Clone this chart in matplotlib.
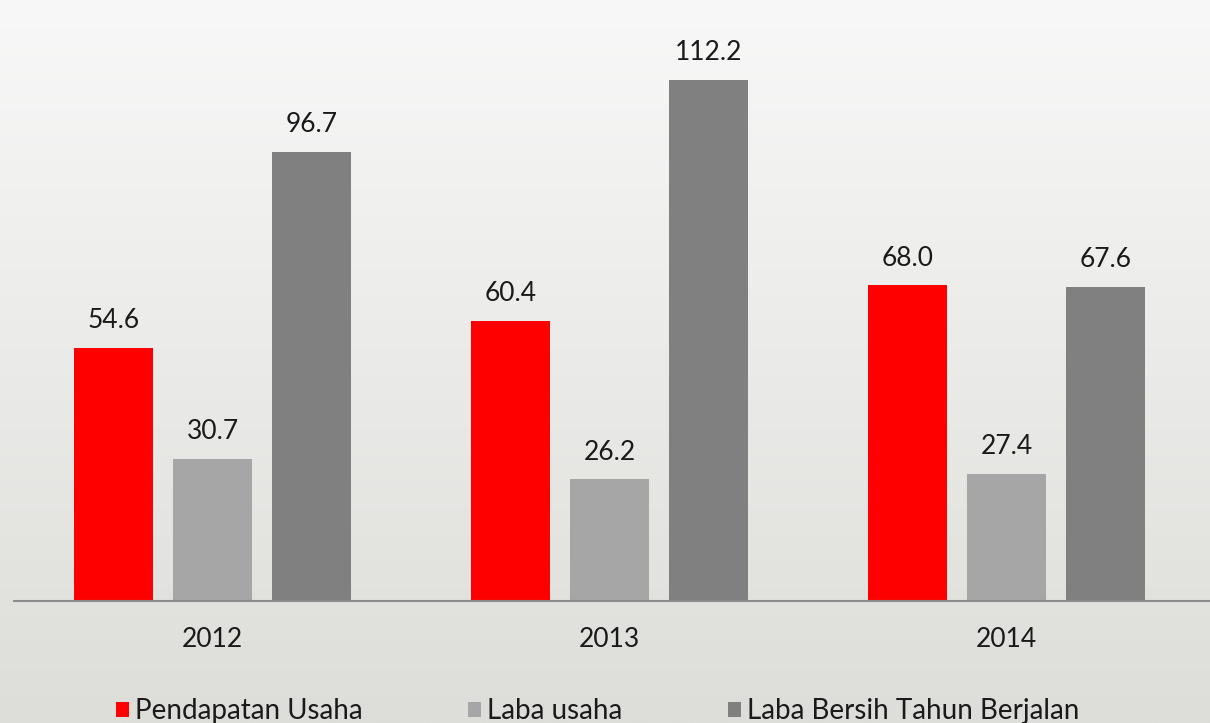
import matplotlib
matplotlib.use("Agg")
import matplotlib.pyplot as plt
import numpy as np

# datos
tahun = ['2012', '2013', '2014']
seri = ['Pendapatan Usaha', 'Laba usaha', 'Laba Bersih Tahun Berjalan']
pendapatan = [54.6, 60.4, 68.0]
laba_usaha = [30.7, 26.2, 27.4]
laba_bersih = [96.7, 112.2, 67.6]
warna = ['#FF0000', '#A6A6A6', '#808080']

plt.rcParams['font.family'] = ['Lato', 'DejaVu Sans']

fig = plt.figure(figsize=(12.10, 7.23), dpi=100)

# fondo degradado
bg = fig.add_axes([0, 0, 1, 1])
grad = np.linspace(0, 1, 256).reshape(-1, 1)
top = np.array([248, 248, 248]) / 255
bot = np.array([221, 221, 217]) / 255
img = top[None, None, :] * (1 - grad[:, :, None]) + bot[None, None, :] * grad[:, :, None]
bg.imshow(img, aspect='auto', extent=[0, 1, 0, 1])
bg.axis('off')

ax = fig.add_axes([14 / 1210, 122 / 723, 1196 / 1210, 601 / 723])
ax.patch.set_alpha(0)

x = np.arange(len(tahun))
ancho = 0.199
datos = [pendapatan, laba_usaha, laba_bersih]
for k, (vals, c, nombre) in enumerate(zip(datos, warna, seri)):
    pos = x + (k - 1) * 0.25
    ax.bar(pos, vals, width=ancho, color=c, label=nombre)
    for p, v in zip(pos, vals):
        ax.text(p, v + 3.2, f'{v:.1f}', ha='center', va='bottom', fontsize=19, color='#1a1a1a')

ax.set_xlim(-0.5, 2.512)
ax.set_ylim(0, 129.5)
ax.set_xticks(x)
ax.set_xticklabels(tahun, fontsize=19, color='#1a1a1a')
ax.tick_params(axis='x', length=0, pad=19)
ax.set_yticks([])
for s in ['top', 'right', 'left']:
    ax.spines[s].set_visible(False)
ax.spines['bottom'].set_color('#8c8c8c')
ax.spines['bottom'].set_linewidth(1.5)

fig.legend(loc='lower center', bbox_to_anchor=(0.494, -0.036), ncol=3, frameon=False,
           fontsize=20, handlelength=0.47, handleheight=0.47, handletextpad=0.22,
           columnspacing=3.8, labelcolor='#1a1a1a')

plt.savefig('out.png', dpi=100)
